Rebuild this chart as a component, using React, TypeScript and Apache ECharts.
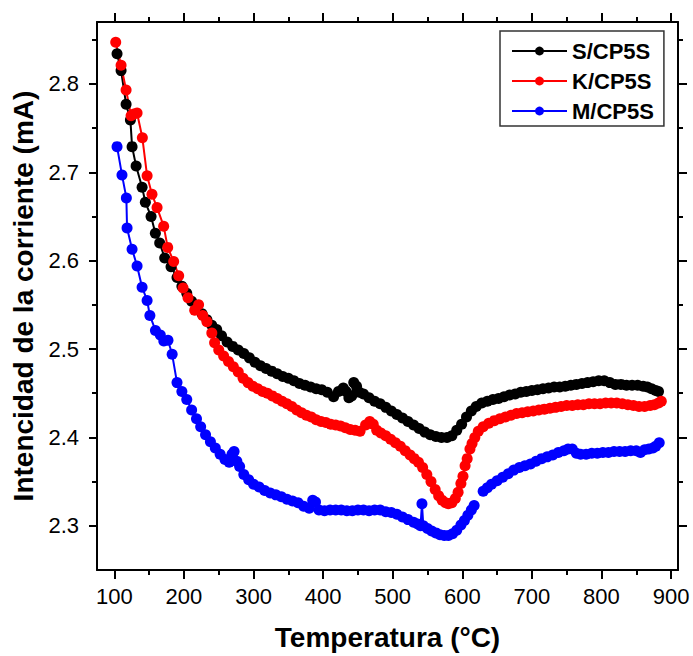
import React, { useEffect, useRef } from "react";
import * as echarts from "echarts";

const X_MAJOR = [100, 200, 300, 400, 500, 600, 700, 800, 900];
const X_MINOR = [150, 250, 350, 450, 550, 650, 750, 850];
const Y_MAJOR = [2.3, 2.4, 2.5, 2.6, 2.7, 2.8];
const Y_MINOR = [2.35, 2.45, 2.55, 2.65, 2.75, 2.85];

const S_T = [103.8, 109.6, 116.8, 123, 125.4, 131.2, 139.8, 144.5, 152.7, 158.9, 165.1, 172.3, 181.4, 190, 197, 204, 211, 218, 226, 233, 240, 247, 254, 262, 270, 278, 286, 294, 302, 310, 318, 326, 334, 342, 350, 358, 366, 374, 382, 390, 398, 406, 415, 422, 429, 433, 437, 441, 444, 448, 452, 458, 466, 474, 482, 490, 498, 506, 514, 522, 530, 538, 546, 554, 562, 570, 578, 585, 592, 599, 606, 613, 620, 628, 636, 644, 652, 660, 668, 676, 684, 692, 700, 708, 716, 724, 732, 740, 748, 756, 764, 772, 780, 788, 796, 804, 812, 820, 828, 836, 844, 852, 860, 866, 872, 878, 882];
const S_I = [2.834, 2.815, 2.777, 2.759, 2.729, 2.707, 2.683, 2.666, 2.65, 2.631, 2.62, 2.603, 2.593, 2.581, 2.571, 2.563, 2.554, 2.547, 2.54, 2.533, 2.527, 2.522, 2.515, 2.508, 2.503, 2.499, 2.495, 2.49, 2.485, 2.481, 2.478, 2.475, 2.472, 2.469, 2.467, 2.464, 2.461, 2.459, 2.457, 2.455, 2.454, 2.451, 2.446, 2.452, 2.456, 2.452, 2.445, 2.447, 2.462, 2.458, 2.451, 2.449, 2.445, 2.441, 2.438, 2.434, 2.43, 2.426, 2.422, 2.418, 2.414, 2.41, 2.406, 2.403, 2.401, 2.4, 2.4, 2.402, 2.408, 2.415, 2.423, 2.43, 2.435, 2.439, 2.441, 2.443, 2.444, 2.446, 2.448, 2.449, 2.451, 2.452, 2.453, 2.454, 2.455, 2.456, 2.457, 2.457, 2.458, 2.459, 2.46, 2.461, 2.462, 2.463, 2.464, 2.464, 2.462, 2.46, 2.46, 2.459, 2.459, 2.459, 2.458, 2.457, 2.455, 2.453, 2.452];

const K_T = [101.9, 109.6, 116.8, 124, 128, 132.6, 140.2, 147, 154, 161.3, 170.8, 176.6, 185.2, 192.4, 198.7, 205.8, 215.4, 221, 227, 233, 240, 244, 250, 257, 264, 271, 278, 285, 292, 299, 306, 313, 320, 327, 334, 341, 348, 355, 362, 369, 376, 383, 390, 397, 404, 411, 418, 425, 432, 439, 446, 453, 461, 467, 472, 477, 483, 490, 497, 504, 511, 518, 525, 531, 537, 543, 549, 555, 561, 566, 571, 576, 580, 585, 590, 594, 598, 601, 604, 607, 611, 614, 618, 623, 630, 638, 646, 654, 662, 670, 678, 686, 694, 702, 710, 718, 726, 734, 742, 750, 758, 766, 774, 782, 790, 798, 806, 814, 822, 830, 838, 846, 854, 862, 870, 876, 882, 886];
const K_I = [2.847, 2.821, 2.793, 2.764, 2.766, 2.767, 2.739, 2.696, 2.675, 2.66, 2.639, 2.615, 2.599, 2.583, 2.569, 2.558, 2.544, 2.55, 2.538, 2.531, 2.518, 2.507, 2.499, 2.492, 2.486, 2.48, 2.474, 2.467, 2.462, 2.458, 2.455, 2.452, 2.45, 2.447, 2.444, 2.441, 2.438, 2.435, 2.431, 2.428, 2.425, 2.423, 2.42, 2.418, 2.417, 2.415, 2.414, 2.413, 2.411, 2.409, 2.408, 2.407, 2.414, 2.418, 2.415, 2.408, 2.405, 2.402, 2.398, 2.394, 2.39, 2.385, 2.38, 2.376, 2.372, 2.366, 2.358, 2.35, 2.341, 2.334, 2.329, 2.326, 2.325, 2.326, 2.331, 2.338, 2.348, 2.356, 2.368, 2.376, 2.387, 2.393, 2.4, 2.407, 2.412, 2.416, 2.419, 2.421, 2.423, 2.425, 2.427, 2.428, 2.429, 2.43, 2.431, 2.432, 2.433, 2.434, 2.435, 2.436, 2.436, 2.437, 2.437, 2.438, 2.438, 2.438, 2.439, 2.439, 2.439, 2.438, 2.437, 2.436, 2.435, 2.435, 2.436, 2.437, 2.439, 2.441];

const M_T = [103.8, 110.9, 117.2, 118.2, 125.4, 132.6, 139.8, 147, 151, 159, 166, 171, 177, 183, 190, 197, 204, 211, 218, 224, 231, 238, 245, 252, 259, 265, 269, 272, 276, 280, 286, 293, 300, 308, 316, 324, 332, 340, 348, 356, 364, 372, 380, 385, 389, 394, 402, 410, 418, 426, 434, 442, 450, 458, 466, 474, 482, 490, 498, 506, 514, 522, 530, 536, 540, 542, 544, 550, 556, 562, 568, 574, 580, 586, 592, 598, 603, 608, 613, 617, 623, 630, 636, 642, 650, 658, 666, 674, 682, 690, 698, 706, 714, 722, 730, 738, 746, 752, 758, 764, 770, 778, 786, 794, 802, 810, 818, 826, 834, 842, 850, 856, 862, 868, 874, 878, 883];
const M_I = [2.729, 2.697, 2.671, 2.637, 2.613, 2.594, 2.57, 2.555, 2.538, 2.521, 2.516, 2.509, 2.51, 2.494, 2.462, 2.452, 2.443, 2.431, 2.421, 2.412, 2.403, 2.395, 2.388, 2.381, 2.375, 2.372, 2.381, 2.384, 2.373, 2.367, 2.358, 2.352, 2.347, 2.344, 2.34, 2.337, 2.335, 2.333, 2.33, 2.328, 2.326, 2.322, 2.32, 2.329, 2.327, 2.318, 2.317, 2.318, 2.318, 2.318, 2.317, 2.317, 2.318, 2.318, 2.317, 2.318, 2.318, 2.316, 2.315, 2.313, 2.31, 2.307, 2.304, 2.302, 2.3, 2.325, 2.3, 2.297, 2.294, 2.292, 2.29, 2.289, 2.289, 2.291, 2.295, 2.301, 2.306, 2.312, 2.318, 2.323, null, 2.339, 2.343, 2.347, 2.351, 2.355, 2.359, 2.363, 2.366, 2.368, 2.37, 2.373, 2.376, 2.378, 2.38, 2.383, 2.385, 2.387, 2.387, 2.382, 2.381, 2.381, 2.382, 2.382, 2.383, 2.383, 2.384, 2.384, 2.384, 2.385, 2.385, 2.383, 2.386, 2.387, 2.388, 2.39, 2.394];

const SERIES = [
  { name: "S/CP5S", t: S_T, v: S_I, color: "#000000" },
  { name: "K/CP5S", t: K_T, v: K_I, color: "#ff0000" },
  { name: "M/CP5S", t: M_T, v: M_I, color: "#0000ff" },
];

const FONT = "'Liberation Sans', Arial, sans-serif";
const X_MIN = 75, X_MAX = 910, Y_MIN = 2.25, Y_MAX = 2.87;

function xAxisDef(position: string, values: number[], len: number, main: boolean, showLine: boolean) {
  return {
    type: "value",
    min: X_MIN,
    max: X_MAX,
    position,
    axisLine: { show: showLine, onZero: false, lineStyle: { color: "#000", width: 2 } },
    axisTick: { show: true, inside: false, customValues: values, length: len, lineStyle: { color: "#000", width: 2 } },
    axisLabel: main
      ? { show: true, customValues: values, fontSize: 22, color: "#000", fontFamily: FONT, margin: 15 }
      : { show: false },
    splitLine: { show: false },
    ...(main
      ? {
          name: "Temperatura (°C)",
          nameLocation: "middle",
          nameGap: 53,
          nameTextStyle: { fontSize: 28, fontWeight: "bold", color: "#000", fontFamily: FONT },
        }
      : {}),
  };
}

function yAxisDef(position: string, values: number[], len: number, main: boolean, showLine: boolean) {
  return {
    type: "value",
    min: Y_MIN,
    max: Y_MAX,
    position,
    axisLine: { show: showLine, onZero: false, lineStyle: { color: "#000", width: 2 } },
    axisTick: { show: true, inside: false, customValues: values, length: len, lineStyle: { color: "#000", width: 2 } },
    axisLabel: main
      ? {
          show: true,
          customValues: values,
          fontSize: 22,
          color: "#000",
          fontFamily: FONT,
          margin: 18,
          formatter: (v: number) => v.toFixed(1),
        }
      : { show: false },
    splitLine: { show: false },
    ...(main
      ? {
          name: "Intencidad de la corriente (mA)",
          nameLocation: "middle",
          nameGap: 56,
          nameTextStyle: { fontSize: 28, fontWeight: "bold", color: "#000", fontFamily: FONT },
        }
      : {}),
  };
}

export default function App() {
  const ref = useRef<HTMLDivElement>(null);
  useEffect(() => {
    if (!ref.current) return;
    const chart = echarts.init(ref.current, null, { renderer: "svg" });
    chart.setOption({
      animation: false,
      backgroundColor: "#ffffff",
      grid: { left: 97, right: 15, top: 22, bottom: 86, containLabel: false, outerBoundsMode: "none" },
      legend: {
        left: 500,
        top: 31,
        orient: "vertical",
        itemWidth: 55,
        itemHeight: 11,
        itemGap: 8,
        padding: [9, 10, 4, 11],
        borderColor: "#333",
        borderWidth: 1.5,
        borderRadius: 0,
        textStyle: { fontSize: 22, fontWeight: "bold", color: "#000", fontFamily: FONT, lineHeight: 22 },
        data: SERIES.map((s) => s.name),
      },
      xAxis: [
        xAxisDef("bottom", X_MAJOR, 9, true, true),
        xAxisDef("bottom", X_MINOR, 5, false, false),
        xAxisDef("top", X_MAJOR, 9, false, true),
        xAxisDef("top", X_MINOR, 5, false, false),
      ],
      yAxis: [
        yAxisDef("left", Y_MAJOR, 8, true, true),
        yAxisDef("left", Y_MINOR, 5, false, false),
        yAxisDef("right", Y_MAJOR, 9, false, true),
        yAxisDef("right", Y_MINOR, 5, false, false),
      ],
      series: SERIES.map((s) => ({
        name: s.name,
        type: "line",
        xAxisIndex: 0,
        yAxisIndex: 0,
        symbol: "circle",
        symbolSize: 11,
        showAllSymbol: true,
        connectNulls: false,
        color: s.color,
        itemStyle: { color: s.color },
        lineStyle: { color: s.color, width: 2 },
        data: s.t.map((t, i) => [t, s.v[i] === null ? "-" : s.v[i]]),
      })),
    });
    return () => chart.dispose();
  }, []);
  return <div ref={ref} style={{ width: 693, height: 656, position: "absolute", left: 0, top: 0 }} />;
}
